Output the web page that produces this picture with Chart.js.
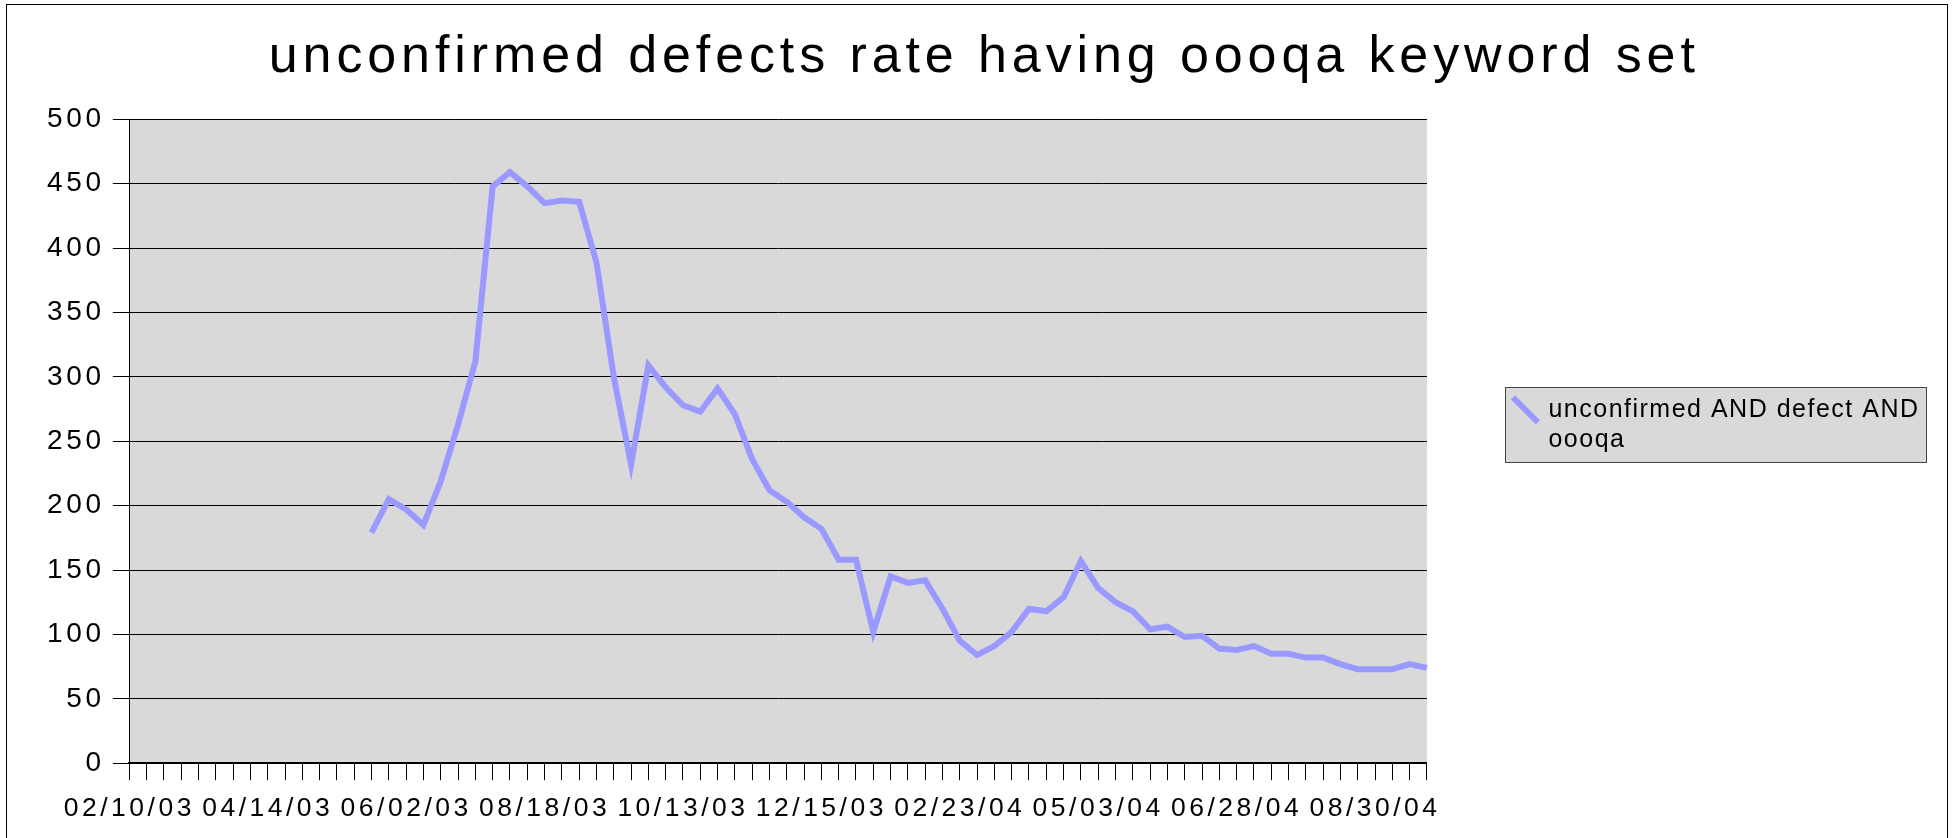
<!DOCTYPE html>
<html>
<head>
    <title>unconfirmed defects rate having oooqa keyword set</title>
    <style>
        body { margin: 0; background: #fff; }
        #chart { display: block; }
    </style>
</head>
<body>
    <canvas id="chart" width="1952" height="838"></canvas>

    <script src="https://cdn.jsdelivr.net/npm/chart.js@4.4.1/dist/chart.umd.min.js"></script>
    <script>
        // report dates (not evenly spaced, some weeks missing)
        const dates = [
            '02/10/03', '02/17/03', '02/24/03', '03/03/03', '03/10/03', '03/17/03', '03/24/03', '03/31/03',
            '04/14/03', '04/21/03', '04/28/03', '05/05/03', '05/12/03', '05/19/03', '05/26/03', '05/29/03',
            '06/02/03', '06/09/03', '06/16/03', '06/23/03', '06/30/03', '07/14/03', '07/21/03', '08/04/03',
            '08/18/03', '08/25/03', '09/01/03', '09/08/03', '09/15/03', '09/22/03', '09/29/03', '10/06/03',
            '10/13/03', '10/20/03', '10/27/03', '11/03/03', '11/10/03', '11/17/03', '11/24/03', '12/01/03',
            '12/15/03', '12/22/03', '01/05/04', '01/12/04', '01/19/04', '01/26/04', '02/02/04', '02/09/04',
            '02/23/04', '03/01/04', '03/08/04', '03/15/04', '03/22/04', '03/29/04', '04/12/04', '04/19/04',
            '05/03/04', '05/10/04', '05/17/04', '05/24/04', '05/31/04', '06/07/04', '06/14/04', '06/21/04',
            '06/28/04', '07/05/04', '07/12/04', '07/19/04', '07/26/04', '08/02/04', '08/09/04', '08/16/04',
            '08/30/04', '09/06/04', '09/13/04', '09/20/04'
        ];

        // only these dates get a label under the axis
        const shownDates = ['02/10/03', '04/14/03', '06/02/03', '08/18/03', '10/13/03',
                            '12/15/03', '02/23/04', '05/03/04', '06/28/04', '08/30/04'];

        const unconfirmed = [
            null, null, null, null, null, null, null, null, null, null, null, null, null, null,
            179, 205, 197, 185, 219, 263, 312, 448, 459, 448, 435, 437, 436, 389, 300, 232,
            309, 292, 278, 273, 291, 271, 236, 212, 203, 191, 182, 158, 158, 102, 145, 140,
            142, 120, 95, 84, 91, 102, 120, 118, 129, 157, 136, 125, 118, 104, 106, 98,
            99, 89, 88, 91, 85, 85, 82, 82, 77, 73, 73, 73, 77, 74
        ];

        const seriesName = ['unconfirmed AND defect AND', 'oooqa'];

        const font = "'Liberation Sans', Arial, sans-serif";

        const canvas = document.getElementById('chart');
        const ctx = canvas.getContext('2d');

        // the original export draws its text with wide tracking, keyed here by font size
        const tracking = { '52': '4.9px', '28': '3.7px', '26.5': '3.5px', '25': '1.5px' };
        ['fillText', 'measureText'].forEach(function(name) {
            const orig = ctx[name];
            ctx[name] = function() {
                const m = this.font.match(/([\d.]+)px/);
                this.letterSpacing = (m && tracking[m[1]]) || '0px';
                return orig.apply(this, arguments);
            };
        });

        const backdrop = {
            id: 'backdrop',
            beforeDraw(chart) {
                const c = chart.ctx;
                const area = chart.chartArea;
                const item = chart.legend.legendHitBoxes[0];
                c.save();
                c.fillStyle = '#d9d9d9';
                c.fillRect(area.left, area.top, area.width, area.height);

                const bx = Math.round(item.left - 10) + 0.5;
                const by = Math.round(item.top - 10) + 0.5;
                const bw = Math.round(item.width + 16);
                const bh = Math.round(item.height + 15);
                c.fillRect(bx, by, bw, bh);
                c.strokeStyle = '#444';
                c.lineWidth = 1;
                c.strokeRect(bx, by, bw, bh);

                c.strokeStyle = '#000';
                c.strokeRect(6.5, 4.5, 1941, 900);
                c.restore();
            }
        };

        new Chart(ctx, {
            type: 'line',
            data: {
                labels: dates,
                datasets: [{
                    label: seriesName,
                    data: unconfirmed,
                    borderColor: '#9999ff',
                    backgroundColor: '#9999ff',
                    borderWidth: 6,
                    pointRadius: 0,
                    pointHoverRadius: 0,
                    pointRotation: 45,
                    tension: 0,
                    spanGaps: false
                }]
            },
            options: {
                responsive: false,
                animation: false,
                layout: { padding: { left: 39, right: 22.5, top: 0, bottom: 0 } },
                scales: {
                    x: {
                        offset: false,
                        grid: { drawOnChartArea: false, tickLength: 17, color: '#000' },
                        border: { color: '#000', width: 2 },
                        ticks: {
                            autoSkip: false,
                            maxRotation: 0,
                            minRotation: 0,
                            padding: 13,
                            color: '#000',
                            font: { family: font, size: 26.5 },
                            callback: function(value) {
                                const d = dates[value];
                                return shownDates.includes(d) ? d : '';
                            }
                        }
                    },
                    y: {
                        min: 0,
                        max: 500,
                        grid: { color: '#000', tickLength: 16.5 },
                        border: { color: '#000', width: 1 },
                        ticks: {
                            stepSize: 50,
                            padding: 8,
                            color: '#000',
                            font: { family: font, size: 28 }
                        }
                    }
                },
                plugins: {
                    title: {
                        display: true,
                        text: 'unconfirmed defects rate having oooqa keyword set',
                        color: '#000',
                        font: { family: font, size: 52, weight: 'normal' },
                        padding: { top: 26, bottom: 31 }
                    },
                    legend: {
                        position: 'right',
                        align: 'start',
                        maxWidth: 600,
                        title: { display: true, text: '', padding: { top: 0, bottom: 295 } },
                        labels: {
                            usePointStyle: true,
                            pointStyle: 'line',
                            boxWidth: 21,
                            padding: 88,
                            color: '#000',
                            font: { family: font, size: 25 }
                        }
                    },
                    tooltip: { enabled: false }
                }
            },
            plugins: [backdrop]
        });
    </script>
</body>
</html>
